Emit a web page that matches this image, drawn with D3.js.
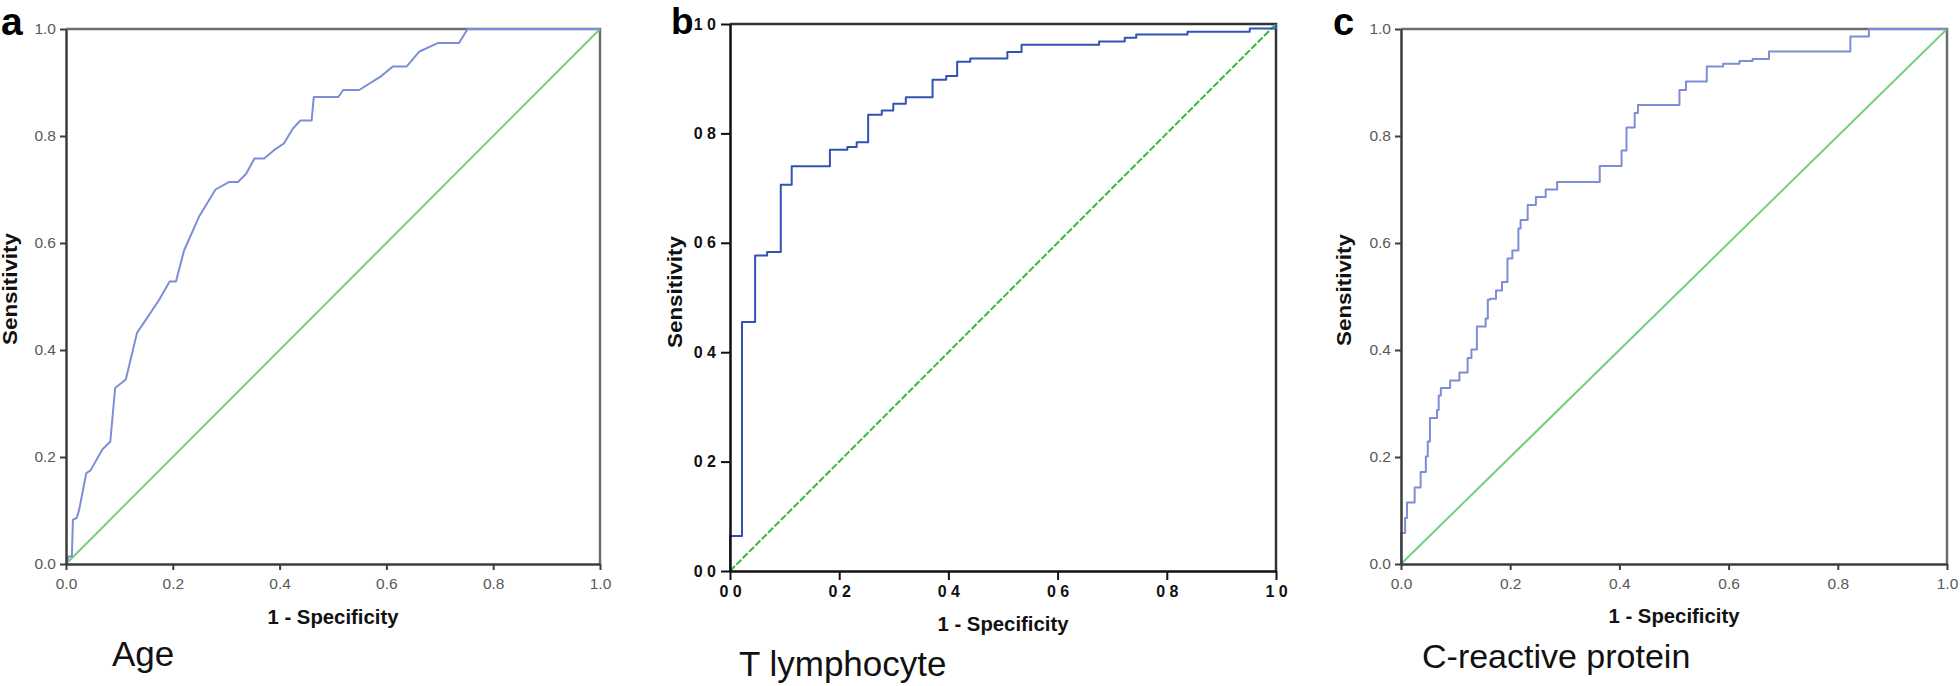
<!DOCTYPE html>
<html>
<head>
<meta charset="utf-8">
<script src="https://cdn.jsdelivr.net/npm/d3@7/dist/d3.min.js"></script>
<style>
  html, body { margin: 0; padding: 0; background: #fff; }
  svg { display: block; font-family: "Liberation Sans", Arial, sans-serif; }
</style>
</head>
<body>
<svg id="chart" width="1960" height="686"></svg>
<script>
// ---------------- data ----------------
const tickValues = [0, 0.2, 0.4, 0.6, 0.8, 1.0];
const panelLetters = ["a", "b", "c"];
const captions = ["Age", "T lymphocyte", "C-reactive protein"];
const xLabel = "1 - Specificity";
const yLabel = "Sensitivity";

// Panel a: Age (ROC, 1 - specificity vs sensitivity)
const ageFpr = [0, 0.005, 0.011, 0.013, 0.020, 0.025, 0.038, 0.046, 0.068, 0.083, 0.092, 0.112, 0.133, 0.174, 0.194, 0.206, 0.221, 0.249, 0.280, 0.305, 0.322, 0.337, 0.353, 0.371, 0.390, 0.408, 0.425, 0.439, 0.460, 0.464, 0.510, 0.519, 0.549, 0.589, 0.612, 0.638, 0.662, 0.697, 0.736, 0.752, 1.0];
const ageTpr = [0, 0.014, 0.014, 0.083, 0.086, 0.103, 0.170, 0.175, 0.214, 0.229, 0.329, 0.345, 0.432, 0.493, 0.528, 0.528, 0.586, 0.649, 0.700, 0.714, 0.714, 0.729, 0.758, 0.758, 0.774, 0.786, 0.814, 0.829, 0.829, 0.873, 0.873, 0.886, 0.886, 0.911, 0.930, 0.930, 0.958, 0.974, 0.974, 1.0, 1.0];

// Panel b: T lymphocyte (step points: new sensitivity reached at each 1 - specificity)
const tlymFpr = [0, 0, 0.022, 0.046, 0.068, 0.093, 0.113, 0.183, 0.215, 0.232, 0.253, 0.278, 0.299, 0.322, 0.371, 0.396, 0.416, 0.440, 0.508, 0.534, 0.676, 0.723, 0.744, 0.838, 0.952, 1.0];
const tlymTpr = [0, 0.064, 0.455, 0.577, 0.583, 0.706, 0.740, 0.770, 0.775, 0.784, 0.834, 0.842, 0.854, 0.866, 0.898, 0.905, 0.931, 0.937, 0.949, 0.962, 0.968, 0.975, 0.981, 0.986, 0.992, 1.0];

// Panel c: C-reactive protein (step points)
const crpFpr = [0, 0, 0.0075, 0.011, 0.025, 0.036, 0.0455, 0.049, 0.053, 0.066, 0.069, 0.073, 0.090, 0.107, 0.122, 0.129, 0.139, 0.155, 0.159, 0.163, 0.174, 0.185, 0.195, 0.204, 0.215, 0.219, 0.232, 0.247, 0.265, 0.286, 0.364, 0.404, 0.413, 0.428, 0.434, 0.510, 0.522, 0.560, 0.590, 0.620, 0.644, 0.674, 0.823, 0.857, 1.0];
const crpTpr = [0, 0.058, 0.086, 0.115, 0.143, 0.172, 0.201, 0.229, 0.273, 0.288, 0.315, 0.329, 0.343, 0.358, 0.385, 0.401, 0.444, 0.459, 0.494, 0.496, 0.511, 0.527, 0.571, 0.586, 0.627, 0.643, 0.671, 0.686, 0.700, 0.714, 0.744, 0.773, 0.816, 0.843, 0.858, 0.886, 0.902, 0.930, 0.935, 0.940, 0.944, 0.958, 0.986, 1.0, 1.0];

// ---------------- layout / style ----------------
const panels = [
  { fpr: ageFpr, tpr: ageTpr, x0: 66, x1: 600, yT: 29, yB: 564, step: false,
    curveColor: "#7d8ed6", diagColor: "#72d07e", dash: null,
    axisColor: "#3d3d3d", frameColor: "#6e6e6e", tickColor: "#595959", tickBold: false, tickSize: 6, tickFont: 15.5,
    letterX: 1, letterY: 35, letterSize: 39,
    xLabY: 624, yLabX: 17, yLabC: 289,
    capX: 112, capY: 666, capSize: 35 },
  { fpr: tlymFpr, tpr: tlymTpr, x0: 730, x1: 1276, yT: 24, yB: 571, step: true,
    curveColor: "#3352b5", diagColor: "#35b845", dash: "7,2",
    axisColor: "#111", frameColor: "#333", tickColor: "#111", tickBold: true, tickSize: 9, tickFont: 16,
    letterX: 671, letterY: 34, letterSize: 37,
    xLabY: 631, yLabX: 682, yLabC: 292,
    capX: 739, capY: 676, capSize: 35 },
  { fpr: crpFpr, tpr: crpTpr, x0: 1401, x1: 1947, yT: 29, yB: 564, step: true,
    curveColor: "#7d8ed6", diagColor: "#72d07e", dash: null,
    axisColor: "#3d3d3d", frameColor: "#6e6e6e", tickColor: "#595959", tickBold: false, tickSize: 6, tickFont: 15.5,
    letterX: 1333, letterY: 35, letterSize: 38,
    xLabY: 623, yLabX: 1351, yLabC: 290,
    capX: 1422, capY: 668, capSize: 34 }
];

const svg = d3.select("#chart");
svg.append("rect").attr("width", 1960).attr("height", 686).attr("fill", "#fff");

panels.forEach((p, i) => {
  const x = d3.scaleLinear().domain([0, 1]).range([p.x0, p.x1]);
  const y = d3.scaleLinear().domain([0, 1]).range([p.yB, p.yT]);
  const g = svg.append("g");

  // frame (top and right)
  g.append("path")
    .attr("d", `M${x(0)},${y(1)}H${x(1)}V${y(0)}`)
    .attr("fill", "none").attr("stroke", p.frameColor).attr("stroke-width", 2.5);

  // diagonal reference line
  g.append("line")
    .attr("x1", x(0)).attr("y1", y(0)).attr("x2", x(1)).attr("y2", y(1))
    .attr("stroke", p.diagColor).attr("stroke-width", 2)
    .attr("stroke-dasharray", p.dash);

  // ROC curve
  const pts = p.fpr.map((v, k) => [v, p.tpr[k]]);
  const line = d3.line().x(d => x(d[0])).y(d => y(d[1]))
    .curve(p.step ? d3.curveStepAfter : d3.curveLinear);
  g.append("path").datum(pts)
    .attr("d", line)
    .attr("fill", "none").attr("stroke", p.curveColor).attr("stroke-width", 2)
    .attr("stroke-linejoin", "round");

  const fmt = d3.format(".1f");

  // axes
  const xAxis = g.append("g").attr("transform", `translate(0,${p.yB})`)
    .call(d3.axisBottom(x).tickValues(tickValues).tickFormat(fmt)
      .tickSize(p.tickSize).tickSizeOuter(0).tickPadding(p.tickBold ? 6 : 8));
  const yAxis = g.append("g").attr("transform", `translate(${p.x0},0)`)
    .call(d3.axisLeft(y).tickValues(tickValues).tickFormat(fmt)
      .tickSize(p.tickSize).tickSizeOuter(0).tickPadding(p.tickBold ? 5 : 4));

  [xAxis, yAxis].forEach(ax => {
    ax.select(".domain").attr("stroke", p.axisColor).attr("stroke-width", 2.5);
    ax.selectAll(".tick line").attr("stroke", p.axisColor).attr("stroke-width", 2);
    ax.selectAll(".tick text")
      .attr("fill", p.tickColor)
      .style("font-family", "'Liberation Sans', Arial, sans-serif")
      .style("font-size", p.tickFont + "px")
      .style("font-weight", p.tickBold ? "bold" : "normal");
  });

  // panel b shows the decimal point almost invisibly
  if (p.tickBold) {
    [xAxis, yAxis].forEach(ax => {
      ax.selectAll(".tick text").each(function(d) {
        const s = fmt(d).split(".");
        const t = d3.select(this).text(null);
        t.append("tspan").text(s[0]);
        t.append("tspan").text(".").attr("fill", "#ececec");
        t.append("tspan").text(s[1]);
      });
    });
  }

  // axis titles
  g.append("text")
    .attr("x", (p.x0 + p.x1) / 2).attr("y", p.xLabY)
    .attr("text-anchor", "middle")
    .attr("textLength", 131).attr("lengthAdjust", "spacingAndGlyphs")
    .style("font-size", "19.5px").style("font-weight", "bold").attr("fill", "#111")
    .text(xLabel);
  g.append("text")
    .attr("transform", `translate(${p.yLabX},${p.yLabC}) rotate(-90)`)
    .attr("text-anchor", "middle")
    .attr("textLength", 112).attr("lengthAdjust", "spacingAndGlyphs")
    .style("font-size", "19.5px").style("font-weight", "bold").attr("fill", "#111")
    .text(yLabel);

  // panel letter
  g.append("text")
    .attr("x", p.letterX).attr("y", p.letterY)
    .style("font-size", p.letterSize + "px").style("font-weight", "bold").attr("fill", "#000")
    .text(panelLetters[i]);

  // caption
  g.append("text")
    .attr("x", p.capX).attr("y", p.capY)
    .style("font-size", p.capSize + "px").attr("fill", "#111")
    .text(captions[i]);
});
</script>
</body>
</html>
